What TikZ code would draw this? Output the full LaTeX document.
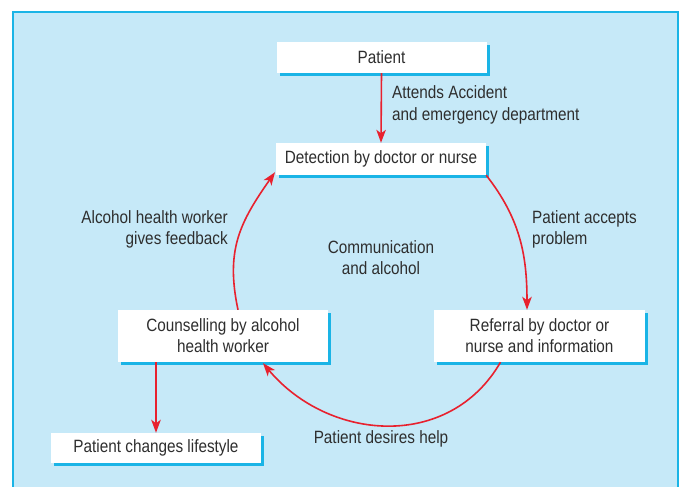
\documentclass[tikz,border=0pt]{standalone}
\usepackage{fontspec}
\setmainfont{Liberation Sans}[FakeStretch=0.86]
\usetikzlibrary{arrows.meta,shadows}
\definecolor{panel}{HTML}{C6E9F8}
\definecolor{rim}{HTML}{1AB4E6}
\definecolor{flow}{HTML}{E8212E}
\definecolor{ink}{HTML}{2E2E2E}
\begin{document}
\begin{tikzpicture}[x=1pt,y=-1pt,
  stepbox/.style={draw=none,fill=white,text=ink,align=center,inner sep=0pt,
    minimum width=210pt,font=\fontsize{17.8}{21}\selectfont,
    drop shadow={shadow xshift=3pt,shadow yshift=-3pt,fill=rim,opacity=1}},
  note/.style={text=ink,inner sep=0pt,font=\fontsize{17.8}{21.5}\selectfont},
  flowarrow/.style={draw=flow,line width=1.6pt,
    -{Stealth[length=13pt,width=9.5pt,inset=3.5pt]}}]
\useasboundingbox (0,0) rectangle (680,487);
% panel
\fill[white] (0,0) rectangle (680,487);
\fill[panel] (13,12) rectangle (678,490);
\draw[rim,line width=1.5pt] (13,490) -- (13,12) -- (678,12) -- (678,490);
% boxes
\node[stepbox,minimum height=31pt] (pat) at (381.5,57.5) {Patient};
\node[stepbox,minimum height=32pt] (det) at (381,159) {Detection by doctor or nurse};
\node[stepbox,minimum height=52pt] (cou) at (223,336) {Counselling by alcohol\\health worker};
\node[stepbox,minimum height=52pt,minimum width=211pt] (ref) at (539.5,336) {Referral by doctor or\\nurse and information};
\node[stepbox,minimum height=30pt] (life) at (156,448) {Patient changes lifestyle};
% connectors
\draw[flowarrow] (pat.south) -- (det.north);
\draw[flowarrow] (det.south east) to[out=-52,in=90] ([xshift=-12.5pt]ref.north);
\draw[flowarrow] ([xshift=-39pt]ref.south) to[out=-120,in=-50,looseness=1.1] ([xshift=40pt,yshift=-1pt]cou.south);
\draw[flowarrow] ([xshift=15pt]cou.north) to[out=102,in=-125,looseness=1.1] ([xshift=-106pt,yshift=3pt]det.south);
\draw[flowarrow] ([xshift=-67pt]cou.south) -- (life.north);
% labels
\node[note,align=left,anchor=north west] (l1) at (392,85.5) {Attends Accident\\and emergency department};
\node[note,align=left,anchor=north west] (l2) at (532,210) {Patient accepts\\problem};
\node[note,align=right,anchor=north east] (l3) at (228,210) {Alcohol health worker\\gives feedback};
\node[note,align=center,anchor=north] (l4) at (381,240) {Communication\\and alcohol};
\node[note,anchor=north] (l5) at (381,430) {Patient desires help};
\end{tikzpicture}
\end{document}
